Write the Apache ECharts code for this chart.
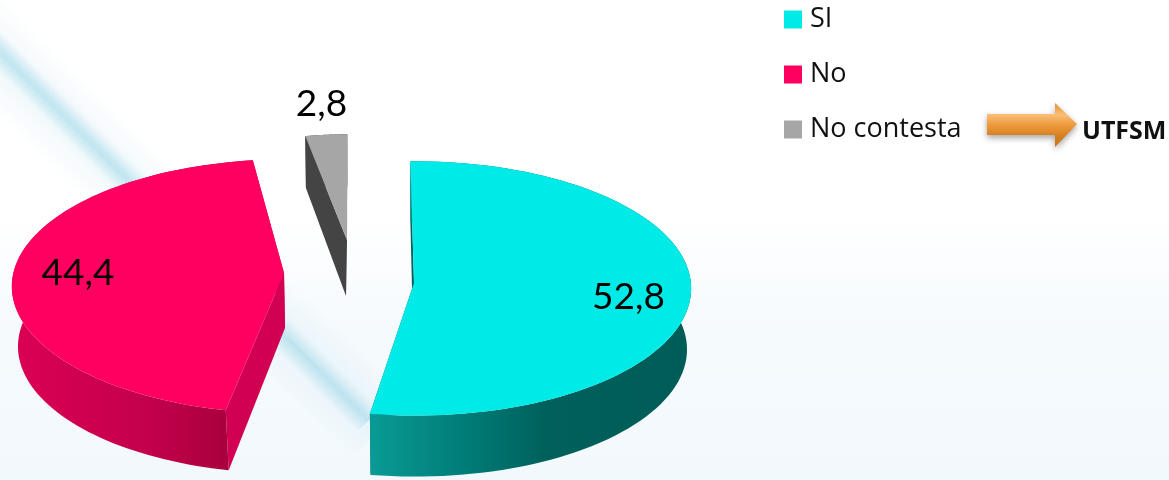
<!DOCTYPE html>
<html>
<head>
<meta charset="utf-8">
<style>html,body{margin:0;padding:0;background:#fff}#c{width:1169px;height:480px}</style>
<script src="https://cdn.jsdelivr.net/npm/echarts@6/dist/echarts.min.js"></script>
</head>
<body>
<div id="c"></div>
<script>
const categories = ['SI', 'No', 'No contesta'];
const values = [52.8, 44.4, 2.8];
const valueLabels = ['52,8', '44,4', '2,8'];
const topColors = ['#00EBE7', '#FF0061', '#A6A6A6'];
const innerColors = ['#00625D', '#D10052', '#444444'];
const wallStops = [
  [[0, '#0A9A95'], [0.3, '#007C77'], [0.55, '#00605B'], [1, '#005C57']],
  [[0, '#DB0054'], [0.55, '#C4004C'], [0.97, '#A2003A'], [1, '#A2003A']],
  [[0, '#444444'], [1, '#444444']]
];
// Exploded-slice placement on the canvas, one record per slice.
const sliceCx = [415, 288, 347];
const sliceCy = [284, 282, 257];
const sliceScaleX = [1, 1, 0.9];
const apexDx = [-1, -4, 0];
const apexDy = [-1, -9, -17];
const angleNudge = [0, 3.5, 1.08];
const wallDepth = [61, 60, 52];
const wallYScale = [1, 1, 1];
const wallDx = [0, 2, 0];
const apexWallDx = [-1, 1, -1];
const apexWallH = [47, 55, 56];
const labelX = [628.5, 78, 321.5];
const labelY = [297, 273, 104];
const startAngle = -1, rx = 276, ry = 127, persp = 0.035;

function project(deg, i) {
  const t = deg * Math.PI / 180, x = Math.sin(t), y = -Math.cos(t), s = 1 / (1 - persp * y);
  return [rx * sliceScaleX[i] * x * s, ry * y * s];
}
const total = values.reduce((a, b) => a + b, 0);
function sliceAngles(i) {
  let a = startAngle;
  for (let k = 0; k < i; k++) a += values[k] / total * 360;
  return [a + angleNudge[i], a + angleNudge[i] + values[i] / total * 360];
}
function renderSlice(i) {
  return function (params, api) {
    const [a0, a1] = sliceAngles(i);
    const v = api.value(0);
    const top = [], bottom = [];
    const n = 90;
    for (let k = 0; k <= n; k++) {
      const p = project(a0 + (a1 - a0) * k / n, i);
      top.push([sliceCx[i] + p[0], sliceCy[i] + p[1]]);
      bottom.push([sliceCx[i] + wallDx[i] + p[0] * 0.985, sliceCy[i] + p[1] * wallYScale[i] + wallDepth[i]]);
    }
    const apex = [sliceCx[i] + apexDx[i], sliceCy[i] + apexDy[i]];
    const apexB = [apex[0] + apexWallDx[i], apex[1] + apexWallH[i]];
    const xs = top.concat(bottom).map(p => p[0]);
    const minX = Math.min.apply(null, xs), maxX = Math.max.apply(null, xs);
    const visMin = i === 1 ? minX : (i === 0 ? bottom[n][0] : minX);
    const visMax = i === 1 ? bottom[n][0] : maxX;
    const wallFill = new echarts.graphic.LinearGradient(visMin, 0, visMax, 0,
      wallStops[i].map(s => ({ offset: s[0], color: s[1] })), true);
    const T0 = top[0], T1 = top[n], B0 = bottom[0], B1 = bottom[n];
    return {
      type: 'group',
      children: [
        { type: 'polygon', shape: { points: [T0, apex, apexB, B0] }, style: { fill: innerColors[i] } },
        { type: 'polygon', shape: { points: [T1, apex, apexB, B1] }, style: { fill: innerColors[i] } },
        { type: 'polygon', shape: { points: top.concat(bottom.slice().reverse()) }, style: { fill: wallFill } },
        { type: 'polygon', shape: { points: top.concat([apex]) }, style: { fill: topColors[i] } },
        { type: 'text', x: labelX[i], y: labelY[i], style: {
            text: valueLabels[values.indexOf(v)], fill: '#000', font: '37px Lato',
            align: 'center', verticalAlign: 'middle' } }
      ]
    };
  };
}
const chart = echarts.init(document.getElementById('c'), null, { renderer: 'canvas' });
const stops = (list) => list.map(s => ({ offset: s[0], color: s[1] }));
chart.setOption({
  animation: false,
  backgroundColor: '#fff',
  graphic: { elements: [
    { type: 'rect', z: 0, shape: { x: 0, y: 0, width: 1169, height: 480 },
      style: { fill: new echarts.graphic.LinearGradient(0, 0, 0, 480,
        stops([[0, '#FFFFFF'], [0.45, '#FFFFFF'], [0.7, '#F5FAFD'], [1, '#F2F9FD']]), true) } },
    { type: 'polygon', z: 1, shape: { points: [[9, -15], [-69, 68], [355, 455], [415, 392]] },
      style: { fill: new echarts.graphic.LinearGradient(154, 269, 216, 205,
        stops([[0, 'rgba(205,232,242,0)'], [0.5, 'rgba(205,232,242,0.35)'], [1, 'rgba(205,232,242,0)']]), true) } },
    { type: 'polygon', z: 1, shape: { points: [[-16, 17], [-44, 46], [358, 431], [386, 403]] },
      style: { fill: new echarts.graphic.LinearGradient(174, 248, 196, 226,
        stops([[0, 'rgba(170,220,235,0)'], [0.5, 'rgba(170,220,235,0.68)'], [1, 'rgba(170,220,235,0)']]), true) } },
    { type: 'polygon', z: 3, shape: { points: [[987, 114], [1055, 114], [1055, 103], [1077, 124], [1055, 147], [1055, 135], [987, 135]] },
      style: { fill: new echarts.graphic.LinearGradient(0, 103, 0, 147,
        stops([[0, '#E88F30'], [0.27, '#F9BE78'], [0.5, '#EE9A3C'], [0.75, '#D67F20'], [1, '#C87418']]), true),
        shadowBlur: 6, shadowColor: 'rgba(0,0,0,0.35)', shadowOffsetY: 3 } },
    { type: 'text', z: 3, x: 1082, y: 132, style: { text: 'UTFSM', fill: '#111', font: 'bold 25px "Open Sans"', align: 'left', verticalAlign: 'middle' } }
  ] },
  legend: {
    orient: 'vertical', left: 784, top: 6, icon: 'rect', itemWidth: 18, itemHeight: 18,
    itemGap: 28, data: categories, selectedMode: false,
    textStyle: { fontFamily: 'Open Sans', fontSize: 27, lineHeight: 26, color: '#111', padding: [0, 0, 0, 3] }, padding: 0
  },
  series: categories.map((name, i) => ({
    type: 'custom', name, coordinateSystem: 'none', z: 2, silent: true,
    itemStyle: { color: topColors[i] },
    data: [[values[i]]],
    renderItem: renderSlice(i)
  }))
});
</script>
</body>
</html>
